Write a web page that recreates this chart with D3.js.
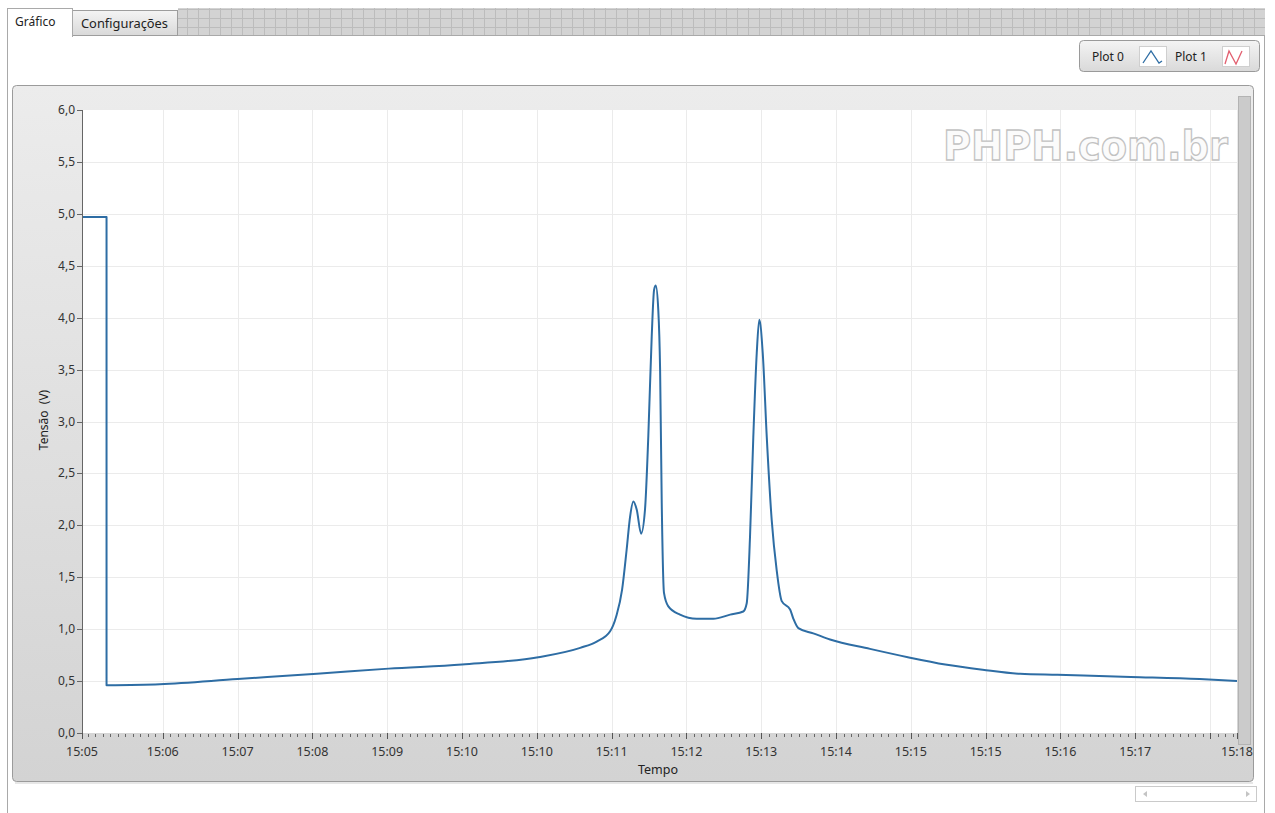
<!DOCTYPE html>
<html>
<head>
<meta charset="utf-8">
<script src="https://d3js.org/d3.v7.min.js"></script>
<style>
  body { margin: 0; background: #fff; }
  svg { display: block; font-family: "Noto Sans", "Open Sans", sans-serif; }
</style>
</head>
<body>
<svg width="1275" height="813"></svg>
<script>
// sample times in seconds after 15:00:00, voltage in V
var times = [351, 367.4, 367.4, 403, 455, 508, 556, 605, 656, 684, 695, 704, 708, 712, 715,
  717.3, 719.5, 721.8, 724.7, 727.3, 729.5, 731.8, 733.4, 734.5, 736.2, 737.4, 738.5,
  740, 742.9, 750.7, 761.9, 773, 784.2, 793, 795.3, 797.5, 799.7, 802, 803.7,
  806, 808.7, 812, 815.3, 818.7, 824.3, 826.5, 829.8, 839.8, 851, 877.7, 903,
  928, 953, 978, 1003, 1052, 1098, 1123];
var volts = [4.97, 4.97, 0.46, 0.47, 0.52, 0.57, 0.62, 0.66, 0.73, 0.82, 0.88, 0.98, 1.12, 1.38, 1.76,
  2.08, 2.23, 2.15, 1.92, 2.15, 2.85, 3.82, 4.27, 4.31, 4.07, 3.5, 2.21,
  1.35, 1.22, 1.14, 1.10, 1.10, 1.14, 1.17, 1.25, 1.89, 2.85, 3.66, 3.98,
  3.66, 2.85, 2.05, 1.57, 1.27, 1.19, 1.10, 1.01, 0.96, 0.90, 0.81, 0.73,
  0.66, 0.61, 0.57, 0.56, 0.54, 0.52, 0.50];

var xTicks = [351, 405, 455, 505, 555, 605, 655, 705, 755, 805, 855, 905, 955, 1005, 1055, 1105, 1123];
var xTickLabels = ["15:05", "15:06", "15:07", "15:08", "15:09", "15:10", "15:10", "15:11", "15:12",
  "15:13", "15:14", "15:15", "15:15", "15:16", "15:17", "", "15:18"];
var yTicks = [0, 0.5, 1, 1.5, 2, 2.5, 3, 3.5, 4, 4.5, 5, 5.5, 6];
var legendNames = ["Plot 0", "Plot 1"];

var svg = d3.select("svg"),
    plotLeft = 82, plotRight = 1237, plotTop = 110, plotBottom = 733;

var x = d3.scaleLinear().domain([351, 1123]).range([plotLeft, plotRight]);
var y = d3.scaleLinear().domain([0, 6]).range([plotBottom, plotTop]);
var fmt = d3.formatLocale({decimal: ",", thousands: ".", grouping: [3], currency: ["R$", ""]}).format(".1f");

var defs = svg.append("defs");
var g1 = defs.append("linearGradient").attr("id", "frameGrad").attr("x1", 0).attr("y1", 0).attr("x2", 0).attr("y2", 1);
g1.append("stop").attr("offset", "0%").attr("stop-color", "#ececec");
g1.append("stop").attr("offset", "100%").attr("stop-color", "#d3d3d3");
var g2 = defs.append("linearGradient").attr("id", "btnGrad").attr("x1", 0).attr("y1", 0).attr("x2", 0).attr("y2", 1);
g2.append("stop").attr("offset", "0%").attr("stop-color", "#f4f4f4");
g2.append("stop").attr("offset", "100%").attr("stop-color", "#d9d9d9");
var pat = defs.append("pattern").attr("id", "tabGrid").attr("width", 11).attr("height", 9).attr("patternUnits", "userSpaceOnUse");
pat.append("rect").attr("width", 11).attr("height", 9).attr("fill", "#d3d3d3");
pat.append("path").attr("d", "M0.5,0V9M0,0.5H11").attr("stroke", "#bcbcbc").attr("fill", "none");

// tab strip
svg.append("rect").attr("x", 178).attr("y", 8).attr("width", 1087).attr("height", 27).attr("fill", "url(#tabGrid)");
svg.append("rect").attr("x", 7.5).attr("y", 35.5).attr("width", 1257).attr("height", 790).attr("fill", "#fff").attr("stroke", "#a9a9a9");
svg.append("rect").attr("x", 72.5).attr("y", 10.5).attr("width", 105).attr("height", 25).attr("fill", "url(#btnGrad)").attr("stroke", "#9d9d9d");
svg.append("rect").attr("x", 7.5).attr("y", 8.5).attr("width", 65).attr("height", 28).attr("fill", "#fff").attr("stroke", "#a9a9a9");
svg.append("rect").attr("x", 8).attr("y", 34).attr("width", 64).attr("height", 4).attr("fill", "#fff");
svg.append("text").attr("x", 15).attr("y", 26).attr("font-size", 12).attr("fill", "#222").text("Gráfico");
svg.append("text").attr("x", 81).attr("y", 28).attr("font-size", 12).attr("fill", "#222")
  .attr("textLength", 87).attr("lengthAdjust", "spacingAndGlyphs").text("Configurações");

// legend
var leg = svg.append("g");
leg.append("rect").attr("x", 1079.5).attr("y", 40.5).attr("width", 180).attr("height", 31).attr("rx", 4)
  .attr("fill", "url(#btnGrad)").attr("stroke", "#9a9a9a");
legendNames.forEach(function(name, i) {
  var ox = 1092 + i * 83;
  leg.append("text").attr("x", ox).attr("y", 61).attr("font-size", 12).attr("fill", "#222").text(name);
  leg.append("rect").attr("x", ox + 47.5).attr("y", 46.5).attr("width", 27).attr("height", 20)
    .attr("fill", "#fff").attr("stroke", "#cfcfcf");
});
leg.append("polyline").attr("points", "1143,63 1151,51 1159,63 1162,61").attr("fill", "none").attr("stroke", "#2e6da4").attr("stroke-width", 1.3);
leg.append("polyline").attr("points", "1225,64 1229,51 1236,64 1242,51").attr("fill", "none").attr("stroke", "#e26070").attr("stroke-width", 1.3);

// chart frame
svg.append("rect").attr("x", 12.5).attr("y", 85.5).attr("width", 1241).attr("height", 696).attr("rx", 4)
  .attr("fill", "url(#frameGrad)").attr("stroke", "#9b9b9b");
svg.append("line").attr("x1", 15).attr("x2", 1253).attr("y1", 783).attr("y2", 783).attr("stroke", "#cfcfcf");
svg.append("rect").attr("x", 1238.5).attr("y", 96.5).attr("width", 12).attr("height", 648).attr("fill", "#cbcbcb").attr("stroke", "#b3b3b3");
svg.append("rect").attr("x", plotLeft).attr("y", plotTop).attr("width", plotRight - plotLeft).attr("height", plotBottom - plotTop).attr("fill", "#fff");

// grid
var grid = svg.append("g").attr("stroke", "#ebebeb").attr("stroke-width", 1);
grid.selectAll("line.h").data(yTicks.slice(1, -1)).enter().append("line")
  .attr("x1", plotLeft).attr("x2", plotRight)
  .attr("y1", function(d) { return Math.round(y(d)) + 0.5; }).attr("y2", function(d) { return Math.round(y(d)) + 0.5; });
grid.selectAll("line.v").data(xTicks.slice(1, -1)).enter().append("line")
  .attr("y1", plotTop).attr("y2", plotBottom)
  .attr("x1", function(d) { return Math.round(x(d)) + 0.5; }).attr("x2", function(d) { return Math.round(x(d)) + 0.5; });

// watermark
svg.append("text").attr("x", 943).attr("y", 160).attr("font-size", 41).attr("font-weight", "bold")
  .attr("font-family", "DejaVu Sans").attr("textLength", 285).attr("lengthAdjust", "spacingAndGlyphs")
  .attr("fill", "#fbfbfb").attr("stroke", "#c2c2c2").attr("stroke-width", 1.3).text("PHPH.com.br");

// data line: the step at the start stays straight, the rest is smoothed
var pts = d3.zip(times, volts);
var stepLine = d3.line().x(function(d) { return x(d[0]); }).y(function(d) { return y(d[1]); });
var smoothLine = d3.line().curve(d3.curveMonotoneX).x(function(d) { return x(d[0]); }).y(function(d) { return y(d[1]); });
svg.append("path").attr("d", stepLine(pts.slice(0, 3)) + smoothLine(pts.slice(2)).replace(/^M/, "L"))
  .attr("fill", "none").attr("stroke", "#2e6da4").attr("stroke-width", 2).attr("stroke-linejoin", "round");

// y axis
var yAxis = svg.append("g").attr("font-size", 12).attr("fill", "#333");
yAxis.append("line").attr("x1", plotLeft + 0.5).attr("x2", plotLeft + 0.5).attr("y1", plotTop).attr("y2", plotBottom + 3).attr("stroke", "#666");
var yt = yAxis.selectAll("g").data(yTicks).enter().append("g")
  .attr("transform", function(d) { return "translate(0," + Math.round(y(d)) + ")"; });
yt.append("line").attr("x1", plotLeft - 5).attr("x2", plotLeft).attr("y1", 0.5).attr("y2", 0.5).attr("stroke", "#666");
yt.append("text").attr("x", plotLeft - 7).attr("y", 4).attr("text-anchor", "end").text(fmt);
yAxis.append("text").attr("transform", "translate(48,420) rotate(-90)").attr("text-anchor", "middle")
  .attr("fill", "#222").attr("font-size", 12).attr("xml:space", "preserve").text("Tensão  (V)");

// x axis
var xAxis = svg.append("g").attr("font-size", 12.5).attr("fill", "#333");
xAxis.selectAll("line.minor").data(d3.range(355, 1123, 5)).enter().append("line")
  .attr("x1", function(d) { return Math.round(x(d)) + 0.5; }).attr("x2", function(d) { return Math.round(x(d)) + 0.5; })
  .attr("y1", plotBottom + 1).attr("y2", plotBottom + 4).attr("stroke", "#666");
xAxis.selectAll("line.major").data(xTicks).enter().append("line")
  .attr("x1", function(d) { return Math.round(x(d)) + 0.5; }).attr("x2", function(d) { return Math.round(x(d)) + 0.5; })
  .attr("y1", plotBottom).attr("y2", plotBottom + 6).attr("stroke", "#555");
xAxis.selectAll("text").data(xTicks).enter().append("text")
  .attr("x", function(d) { return x(d); }).attr("y", 756).attr("text-anchor", "middle")
  .text(function(d, i) { return xTickLabels[i]; });
xAxis.append("text").attr("x", 658).attr("y", 774).attr("text-anchor", "middle").attr("fill", "#222").text("Tempo");

// scrollbar
svg.append("rect").attr("x", 1135.5).attr("y", 786.5).attr("width", 121).attr("height", 15).attr("fill", "#fff").attr("stroke", "#cacaca");
svg.append("path").attr("d", "M1143,794 L1147,791 L1147,797 Z M1250,794 L1246,791 L1246,797 Z").attr("fill", "#c4c4c4");
</script>
</body>
</html>
